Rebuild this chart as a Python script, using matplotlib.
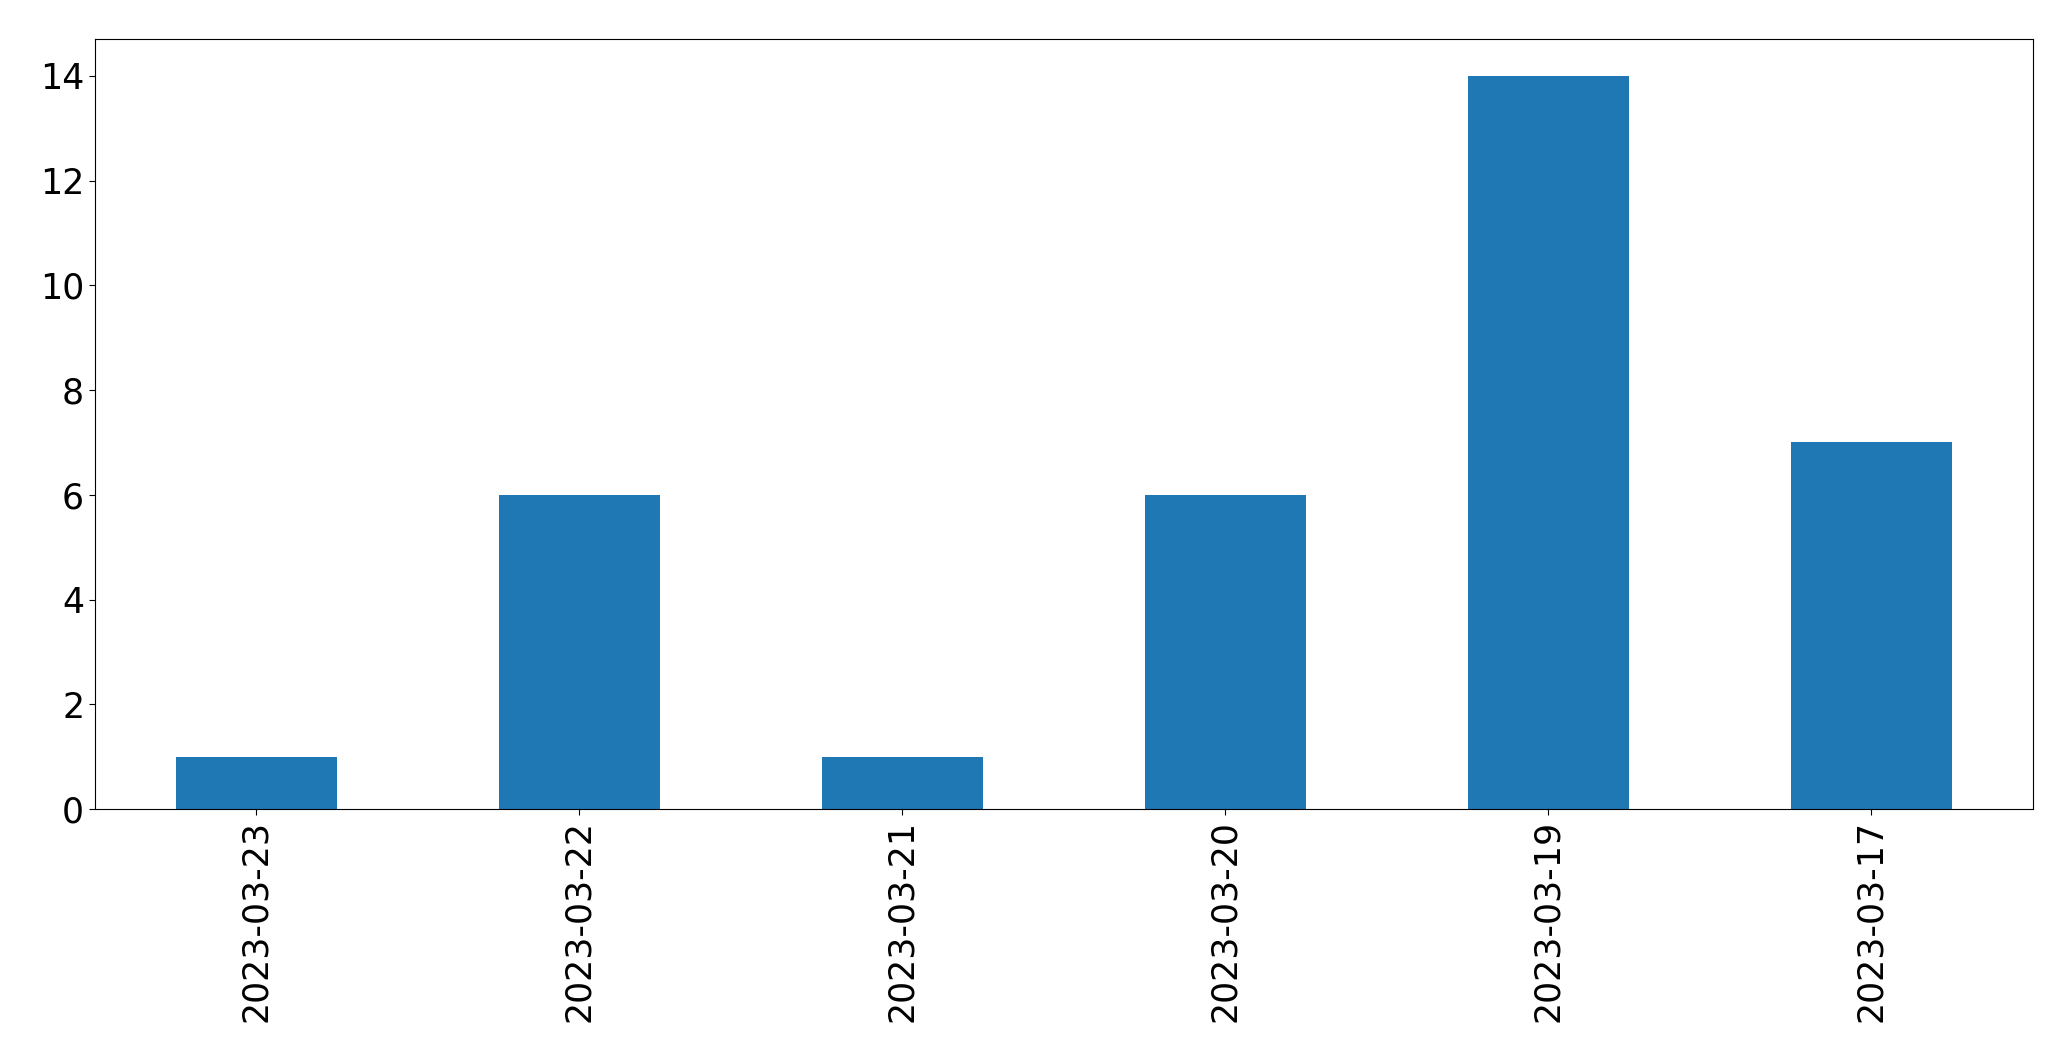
import matplotlib
matplotlib.use("Agg")
import matplotlib.pyplot as plt

dates = ["2023-03-23", "2023-03-22", "2023-03-21", "2023-03-20", "2023-03-19", "2023-03-17"]
counts = [1, 6, 1, 6, 14, 7]


def main():
    fig, ax = plt.subplots(figsize=(20.71, 10.61), dpi=100)
    x = range(len(dates))
    ax.bar(x, counts, width=0.5, color="#1f77b4")
    ax.set_xlim(-0.5, len(dates) - 0.5)
    ax.set_ylim(0, max(counts) * 1.05)
    ax.set_xticks(list(x))
    ax.set_xticklabels(dates, rotation=90)
    ax.tick_params(labelsize=25, length=4.2)
    fig.subplots_adjust(left=0.0458, right=0.9816, top=0.963, bottom=0.2375)
    fig.savefig("out.png", dpi=100)


if __name__ == "__main__":
    main()
